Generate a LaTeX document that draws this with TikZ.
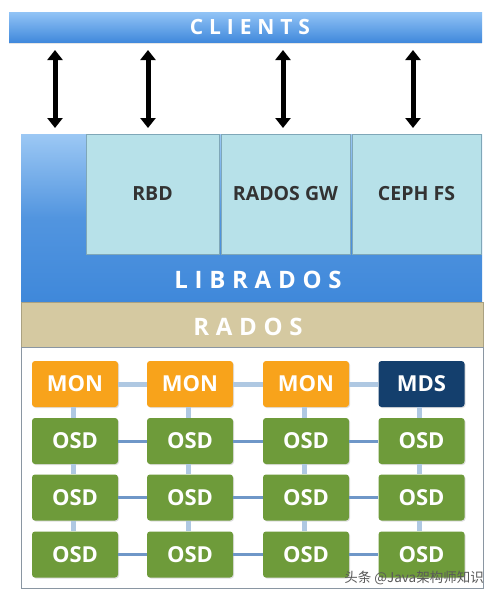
\documentclass[tikz,border=0pt]{standalone}
\usepackage{fontspec}
\setmainfont{Open Sans}
\newfontfamily\spaced[LetterSpace=28]{Open Sans}
\newfontfamily\cjk{Noto Sans CJK SC}
\usetikzlibrary{arrows.meta,shadows}
\definecolor{clientTop}{HTML}{92C4F6}
\definecolor{clientBot}{HTML}{4189DC}
\definecolor{libBlue}{HTML}{3F88DA}
\definecolor{libLight}{HTML}{9CC8F4}
\definecolor{subFill}{HTML}{B7E1E9}
\definecolor{subEdge}{HTML}{7FA7B8}
\definecolor{radosTan}{HTML}{D5C9A1}
\definecolor{monOrange}{HTML}{F8A31B}
\definecolor{mdsNavy}{HTML}{143F6D}
\definecolor{osdGreen}{HTML}{6E9B3A}
\definecolor{linkLight}{HTML}{AFC8E2}
\definecolor{linkBlue}{HTML}{6F97C8}
\definecolor{frameGrey}{HTML}{8A96A2}
\tikzset{
  x=1pt,y=-1pt,
  layerbar/.style={rectangle,inner sep=0pt,draw=none},
  subbox/.style={rectangle,inner sep=0pt,fill=subFill,draw=subEdge,line width=0.6pt,
     minimum height=120pt,font=\fontsize{19.5}{19.5}\selectfont\bfseries\color{black!80}},
  daemon/.style={rectangle,rounded corners=3pt,inner sep=0pt,minimum width=86pt,minimum height=46pt,
     font=\fontsize{22}{22}\selectfont\bfseries\color{white},drop shadow={opacity=0.25,shadow xshift=1pt,shadow yshift=-1pt}},
  mon/.style={daemon,fill=monOrange},
  mds/.style={daemon,fill=mdsNavy},
  osd/.style={daemon,fill=osdGreen},
  dbl/.style={line width=5pt,{Triangle[width=15pt,length=10pt]}-{Triangle[width=15pt,length=10pt]},black},
  hlink/.style={line width=3pt,linkBlue},
  toplink/.style={line width=5pt,linkLight},
  vlink/.style={line width=5pt,linkLight},
  bartext/.style={font=\fontsize{21}{21}\selectfont\spaced\bfseries,text=white},
  bigbartext/.style={font=\fontsize{24}{24}\selectfont\spaced\bfseries,text=white},
}
\begin{document}
\begin{tikzpicture}
\useasboundingbox[fill=white] (0,0) rectangle (490,598);
% clients bar
\node[layerbar,top color=clientTop,bottom color=clientBot,minimum width=473pt,minimum height=30pt,
  drop shadow={opacity=0.2,shadow xshift=0pt,shadow yshift=-1.5pt}] (clients) at (245.5,27) {};
\node[bartext] (clientsT) at (250,27) {CLIENTS};
% librados block
\node[layerbar,top color=libLight,bottom color=libBlue,middle color=libBlue!80!libLight,
  minimum width=461pt,minimum height=168pt] (librados) at (251.5,218) {};
\node[subbox,minimum width=133pt] (rbd) at (152.5,194) {RBD};
\node[subbox,minimum width=129pt] (gw) at (285.5,194) {RADOS GW};
\node[subbox,minimum width=129pt] (cephfs) at (416.5,194) {CEPH FS};
\node[bigbartext] (libT) at (258,280) {LIBRADOS};
% rados band
\node[layerbar,fill=radosTan,draw=radosTan!80!black,line width=0.5pt,minimum width=462pt,minimum height=45pt] (rados) at (252,324.5) {};
\node[bigbartext] (radosT) at (248,327) {RADOS};
% cluster frame
\node[layerbar,fill=white,draw=frameGrey,line width=1pt,minimum width=462pt,minimum height=241pt] (cluster) at (252,467.5) {};
% arrows
\coordinate (a1t) at (55,50);  \coordinate (a1b) at (55,128);
\coordinate (a2t) at (148,50); \coordinate (a2b) at (148,128);
\coordinate (a3t) at (283,50); \coordinate (a3b) at (283,128);
\coordinate (a4t) at (413,50); \coordinate (a4b) at (413,128);
\draw[dbl] (a1t) -- (a1b);
\draw[dbl] (a2t) -- (a2b);
\draw[dbl] (a3t) -- (a3b);
\draw[dbl] (a4t) -- (a4b);
% daemons
\foreach \c/\x in {1/75,2/190,3/306,4/421.5}{
  \foreach \r/\y in {2/441,3/497.5,4/554.5}{
    \node[osd] (o\c\r) at (\x,\y) {OSD};
  }
}
\node[mon] (m1) at (75,384) {MON};
\node[mon] (m2) at (190,384) {MON};
\node[mon] (m3) at (306,384) {MON};
\node[mds] (m4) at (421.5,384) {MDS};
% links top row
\draw[toplink] (m1.east) -- (m2.west);
\draw[toplink] (m2.east) -- (m3.west);
\draw[toplink] (m3.east) -- (m4.west);
% horizontal links osd rows
\foreach \r in {2,3,4}{
  \draw[hlink] (o1\r.east) -- (o2\r.west);
  \draw[hlink] (o2\r.east) -- (o3\r.west);
  \draw[hlink] (o3\r.east) -- (o4\r.west);
}
% vertical links
\foreach \c in {1,2,3,4}{
  \draw[vlink] ([xshift=-2pt]m\c.south) -- ([xshift=-2pt]o\c2.north);
  \draw[vlink] ([xshift=-2pt]o\c2.south) -- ([xshift=-2pt]o\c3.north);
  \draw[vlink] ([xshift=-2pt]o\c3.south) -- ([xshift=-2pt]o\c4.north);
}
% watermark
\node[anchor=east,inner sep=0pt,font=\cjk\fontsize{13.5}{13.5}\selectfont,text=black!65] (wm) at (484,578) {头条 @Java架构师知识};
\end{tikzpicture}
\end{document}
